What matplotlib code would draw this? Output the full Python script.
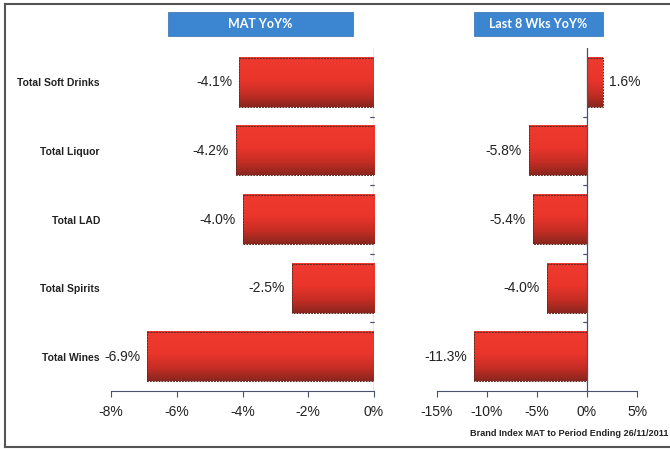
import numpy as np
import matplotlib
matplotlib.use("Agg")
import matplotlib.pyplot as plt
from matplotlib.patches import Rectangle
from matplotlib.lines import Line2D

categories = ["Total Soft Drinks", "Total Liquor", "Total LAD", "Total Spirits", "Total Wines"]
mat_yoy = [-4.1, -4.2, -4.0, -2.5, -6.9]
wks8_yoy = [1.6, -5.8, -5.4, -4.0, -11.3]
mat_ticks = [-8, -6, -4, -2, 0]
wks8_ticks = [-15, -10, -5, 0, 5]

plt.rcParams['font.family'] = ['Liberation Sans', 'DejaVu Sans']

fig = plt.figure(figsize=(6.7, 4.49), dpi=100)
W, H = 670, 449

def fig_rect(x0, y0, x1, y1):
    # pixel box (top-left origin) -> figure fraction
    return [x0 / W, 1 - y1 / H, (x1 - x0) / W, (y1 - y0) / H]

# red gradient: bright over most of the bar, darker towards the bottom
grad = np.linspace(0, 1, 64).reshape(-1, 1)
cmap = matplotlib.colors.LinearSegmentedColormap.from_list(
    "redgrad", [(0, "#ee3a2e"), (0.45, "#ea352b"), (0.75, "#c42d24"), (1, "#8a261e")])

def draw_bars(ax, vals, xlim, ticks, left_labels):
    n = len(vals)
    ypos = np.arange(n)
    h = 0.715
    for y, v in zip(ypos, vals):
        x0, x1 = min(0, v), max(0, v)
        ax.imshow(grad, cmap=cmap, aspect='auto', interpolation='bicubic',
                  extent=[x0, x1, y + h / 2, y - h / 2], zorder=2)
        ax.add_patch(Rectangle((x0, y - h / 2), x1 - x0, h, fill=False,
                               edgecolor="#5a2a25", lw=0.7, ls=(0, (2, 1)), zorder=3))
        txt = "%.1f%%" % v
        if v < 0:
            ax.annotate(txt, (v, y), xytext=(-5, 0), textcoords="offset points",
                        ha="right", va="center", fontsize=10, color="#222222")
        else:
            ax.annotate(txt, (v, y), xytext=(4, 0), textcoords="offset points",
                        ha="left", va="center", fontsize=10, color="#222222")
    ax.set_xlim(*xlim)
    ax.set_ylim(n - 0.5, -0.5)
    ax.set_xticks(ticks)
    ax.set_xticklabels(["%d%%" % t for t in ticks], fontsize=10, color="#222222")
    ax.set_yticks(ypos)
    if left_labels:
        ax.set_yticklabels(categories, fontsize=7.5, fontweight="bold", color="#222222")
    else:
        ax.set_yticklabels([])
    ax.tick_params(axis="y", which="major", length=0, pad=8)
    ax.tick_params(axis="x", which="major", length=4, color="#4a5070", pad=6)
    for s in ["top", "right", "left"]:
        ax.spines[s].set_visible(False)
    ax.spines["bottom"].set_color("#4a5070")
    ax.axvline(0, color="#4a5070", lw=0.9, zorder=4)
    for b in np.arange(n - 1) + 0.5:
        ax.plot([0, 0], [b, b], marker=0, markersize=3, color="#4a5070",
                mew=0.8, zorder=4, clip_on=False)

ax1 = fig.add_axes(fig_rect(111, 48, 374, 391))
draw_bars(ax1, mat_yoy, (-8, 0), mat_ticks, True)

ax2 = fig.add_axes(fig_rect(437, 48, 637, 391))
draw_bars(ax2, wks8_yoy, (-15, 5), wks8_ticks, False)

# header boxes
for (x0, x1), label in [((168, 353), "MAT YoY%"), ((474, 603), "Last 8 Wks YoY%")]:
    r = fig_rect(x0, 12, x1, 36)
    fig.patches.append(Rectangle((r[0], r[1]), r[2], r[3], transform=fig.transFigure,
                                 facecolor="#3b85d1", edgecolor="#2f6fb0", lw=0.5))
    fig.text(r[0] + r[2] / 2, r[1] + r[3] / 2, label, ha="center", va="center",
             color="white", fontsize=9, fontweight="bold", family="Lato")

# outer frame
for xs, ys in [([5, 670], [4, 4]), ([5, 5], [4, 447]), ([5, 670], [447, 447])]:
    fig.lines.append(Line2D([x / W for x in xs], [1 - y / H for y in ys],
                            transform=fig.transFigure, color="#555555", lw=1.5))

fig.text(668 / W, 1 - 434 / H, "Brand Index MAT to Period Ending 26/11/2011",
         ha="right", va="center", fontsize=6.6, fontweight="bold", color="#222222")

fig.savefig("out.png", dpi=100)
